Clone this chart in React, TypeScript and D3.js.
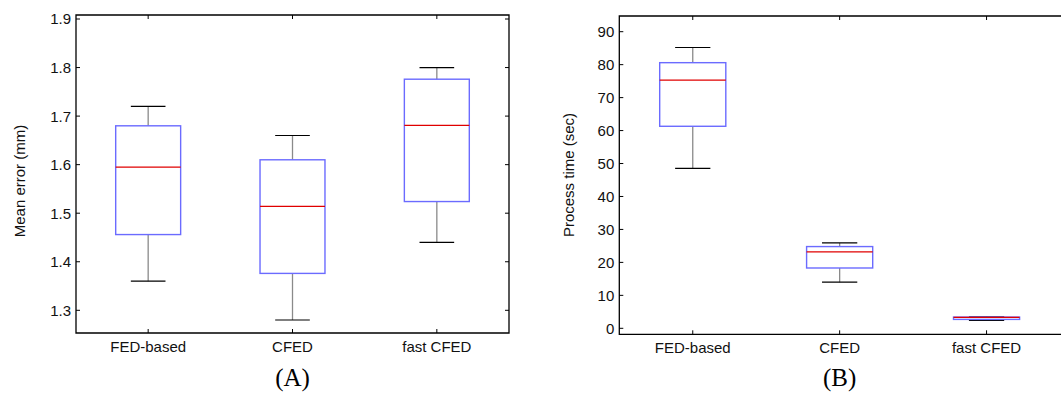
import React from 'react';
import * as d3 from 'd3';

const categories = ['FED-based', 'CFED', 'fast CFED'];

const errorLow = [1.36, 1.28, 1.44];
const errorQ1 = [1.456, 1.376, 1.524];
const errorMedian = [1.595, 1.514, 1.681];
const errorQ3 = [1.68, 1.61, 1.776];
const errorHigh = [1.72, 1.66, 1.8];
const errorTicks = [1.3, 1.4, 1.5, 1.6, 1.7, 1.8, 1.9];

const timeLow = [48.5, 14.0, 2.4];
const timeQ1 = [61.3, 18.3, 2.7];
const timeMedian = [75.3, 23.2, 3.3];
const timeQ3 = [80.6, 24.8, 3.4];
const timeHigh = [85.2, 25.9, 3.5];
const timeTicks = [0, 10, 20, 30, 40, 50, 60, 70, 80, 90];

type PanelProps = {
  left: number; right: number; top: number; bottom: number;
  yDomain: [number, number]; yRange: [number, number];
  ticks: number[]; fmt: (v: number) => string;
  low: number[]; q1: number[]; med: number[]; q3: number[]; high: number[];
  yLabel: string; yLabelX: number; yLabelY: number;
  title: string; showRight: boolean;
};

const FONT = '"Liberation Sans", Arial, Helvetica, sans-serif';

function Panel(p: PanelProps) {
  const x = d3.scaleLinear().domain([0.5, 3.5]).range([p.left, p.right]);
  const y = d3.scaleLinear().domain(p.yDomain).range(p.yRange);
  const tl = 4;
  const boxHalf = 0.225;
  const capHalf = 0.12;
  const frameRight = p.showRight ? p.right : 1061;
  const framePath = p.showRight
    ? `M${p.left},${p.top}H${p.right}V${p.bottom}H${p.left}Z`
    : `M${frameRight + 2},${p.top}H${p.left}V${p.bottom}H${frameRight + 2}`;
  return (
    <g>
      {categories.map((c, i) => {
        const cx = x(i + 1);
        const bw = x(1 + boxHalf) - x(1);
        const cw = x(1 + capHalf) - x(1);
        return (
          <g key={c}>
            <line x1={cx} x2={cx} y1={y(p.q3[i])} y2={y(p.high[i])} stroke="#8a8a8a" strokeWidth={1.3} />
            <line x1={cx} x2={cx} y1={y(p.q1[i])} y2={y(p.low[i])} stroke="#8a8a8a" strokeWidth={1.3} />
            <line x1={cx - cw} x2={cx + cw} y1={y(p.high[i])} y2={y(p.high[i])} stroke="#000" strokeWidth={1.2} />
            <line x1={cx - cw} x2={cx + cw} y1={y(p.low[i])} y2={y(p.low[i])} stroke="#000" strokeWidth={1.2} />
            <rect x={cx - bw} width={bw * 2} y={y(p.q3[i])} height={Math.max(0.5, y(p.q1[i]) - y(p.q3[i]))}
              fill="none" stroke="#6b6bff" strokeWidth={1.4} />
            <line x1={cx - bw} x2={cx + bw} y1={y(p.med[i])} y2={y(p.med[i])} stroke="#e00000" strokeWidth={1.2} />
          </g>
        );
      })}
      <path d={framePath} fill="none" stroke="#000" strokeWidth={1.3} />
      {p.ticks.map(t => (
        <g key={t}>
          <line x1={p.left} x2={p.left + tl} y1={y(t)} y2={y(t)} stroke="#000" strokeWidth={1} />
          {p.showRight && <line x1={p.right} x2={p.right - tl} y1={y(t)} y2={y(t)} stroke="#000" strokeWidth={1} />}
          <text x={p.left - 5} y={y(t)} dy="0.36em" textAnchor="end" fontSize={15} fontFamily={FONT} fill="#111">{p.fmt(t)}</text>
        </g>
      ))}
      {categories.map((c, i) => (
        <g key={c}>
          <line x1={x(i + 1)} x2={x(i + 1)} y1={p.top} y2={p.top + tl} stroke="#000" strokeWidth={1} />
          <line x1={x(i + 1)} x2={x(i + 1)} y1={p.bottom} y2={p.bottom - tl} stroke="#000" strokeWidth={1} />
          <text x={x(i + 1)} y={p.bottom + 19} textAnchor="middle" fontSize={15} fontFamily={FONT} fill="#111">{c}</text>
        </g>
      ))}
      <text transform={`translate(${p.yLabelX},${p.yLabelY}) rotate(-90)`} textAnchor="middle" fontSize={15} fontFamily={FONT} fill="#111">{p.yLabel}</text>
      <text x={x(2)} y={386} textAnchor="middle" fontSize={25} fontFamily='"Liberation Serif", "Times New Roman", serif' fill="#000">{p.title}</text>
    </g>
  );
}

export default function App() {
  return (
    <svg width={1061} height={397} style={{ position: 'absolute', left: 0, top: 0, background: '#fff' }}>
      <rect width={1061} height={397} fill="#fff" />
      <Panel left={76} right={509} top={15} bottom={333}
        yDomain={[1.3, 1.9]} yRange={[310.3, 19]} ticks={errorTicks} fmt={d3.format('.1f')}
        low={errorLow} q1={errorQ1} med={errorMedian} q3={errorQ3} high={errorHigh}
        yLabel="Mean error (mm)" yLabelX={24.5} yLabelY={181} title="(A)" showRight={true} />
      <Panel left={619.3} right={1060} top={16} bottom={334.3}
        yDomain={[0, 90]} yRange={[328.3, 31.7]} ticks={timeTicks} fmt={d3.format('d')}
        low={timeLow} q1={timeQ1} med={timeMedian} q3={timeQ3} high={timeHigh}
        yLabel="Process time (sec)" yLabelX={573.5} yLabelY={175} title="(B)" showRight={false} />
    </svg>
  );
}
